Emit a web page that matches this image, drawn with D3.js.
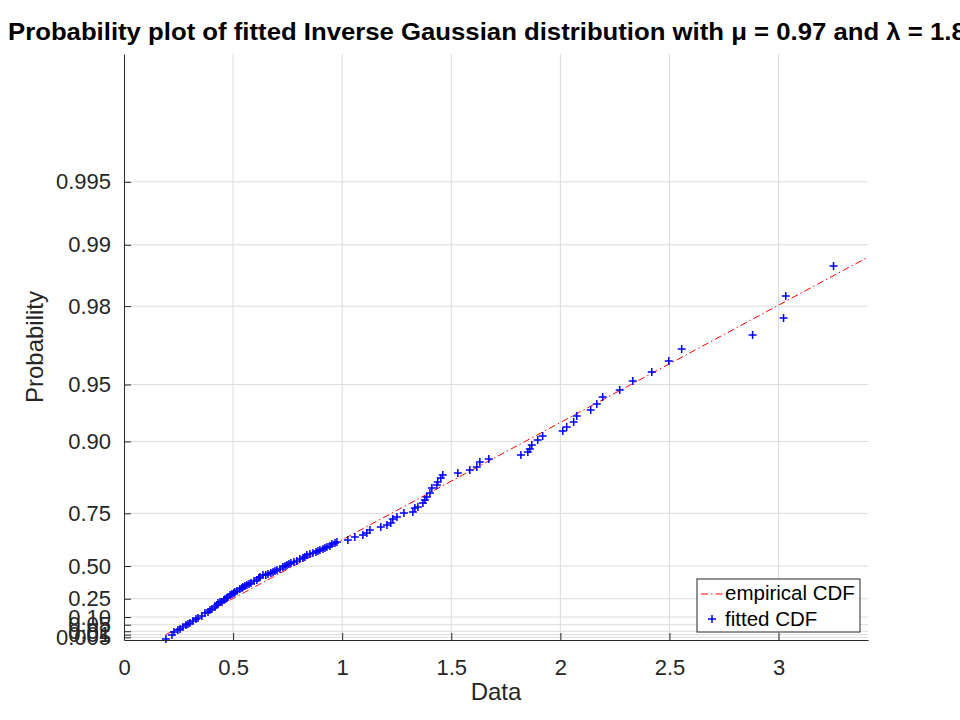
<!DOCTYPE html>
<html>
<head>
  <meta charset="utf-8">
  <script src="https://d3js.org/d3.v7.min.js"></script>
  <style>
    body { margin: 0; background: #fff; }
    text { font-family: "Liberation Sans", Arial, sans-serif; fill: #262626; }
    .axis path, .axis line { stroke: #262626; }
    .gridlines line { stroke: #dcdcdc; }
  </style>
</head>
<body>
  <svg id="probplot" width="960" height="720"></svg>

  <script>
    // fitted Inverse Gaussian parameters
    const mu = 0.97;
    const lambda = 1.89;

    const xTicks = [0, 0.5, 1, 1.5, 2, 2.5, 3];
    const xTickLabels = ['0', '0.5', '1', '1.5', '2', '2.5', '3'];
    const probTicks = [0.005, 0.01, 0.02, 0.05, 0.10, 0.25, 0.50, 0.75, 0.90, 0.95, 0.98, 0.99, 0.995];
    const probTickLabels = ['0.005', '0.01', '0.02', '0.05', '0.10', '0.25', '0.50', '0.75', '0.90', '0.95', '0.98', '0.99', '0.995'];

    // sorted sample values (x) and the fitted quantile each one is plotted at (y)
    const sampleData = [
      0.192, 0.220, 0.229, 0.247, 0.257, 0.270, 0.284, 0.293, 0.302, 0.316,
      0.330, 0.339, 0.357, 0.371, 0.385, 0.394, 0.403, 0.417, 0.426, 0.431,
      0.440, 0.449, 0.458, 0.463, 0.472, 0.476, 0.486, 0.495, 0.504, 0.508,
      0.518, 0.531, 0.541, 0.545, 0.554, 0.563, 0.573, 0.582, 0.596, 0.609,
      0.618, 0.623, 0.637, 0.650, 0.660, 0.673, 0.683, 0.692, 0.701, 0.715,
      0.728, 0.738, 0.747, 0.756, 0.765, 0.779, 0.792, 0.806, 0.820, 0.829,
      0.838, 0.852, 0.866, 0.880, 0.889, 0.898, 0.912, 0.921, 0.930, 0.944,
      0.953, 0.967, 0.976, 1.026, 1.058, 1.095, 1.113, 1.127, 1.177, 1.205,
      1.223, 1.232, 1.251, 1.283, 1.324, 1.333, 1.347, 1.370, 1.379, 1.388,
      1.402, 1.411, 1.434, 1.438, 1.452, 1.461, 1.530, 1.585, 1.617, 1.631,
      1.672, 1.819, 1.851, 1.860, 1.869, 1.896, 1.919, 2.011, 2.029, 2.061,
      2.075, 2.139, 2.167, 2.194, 2.272, 2.332, 2.419, 2.497, 2.556, 2.881,
      3.023, 3.033, 3.252
    ];
    const fittedQuantile = [
      0.154, 0.188, 0.214, 0.231, 0.239, 0.256, 0.274, 0.282, 0.291, 0.308,
      0.325, 0.333, 0.350, 0.376, 0.384, 0.401, 0.410, 0.427, 0.444, 0.461,
      0.470, 0.470, 0.487, 0.495, 0.504, 0.512, 0.529, 0.538, 0.546, 0.555,
      0.563, 0.580, 0.589, 0.597, 0.606, 0.614, 0.623, 0.631, 0.648, 0.657,
      0.674, 0.683, 0.700, 0.700, 0.708, 0.717, 0.725, 0.734, 0.742, 0.751,
      0.768, 0.777, 0.785, 0.794, 0.802, 0.811, 0.819, 0.836, 0.845, 0.853,
      0.870, 0.879, 0.887, 0.896, 0.904, 0.913, 0.921, 0.930, 0.938, 0.947,
      0.964, 0.973, 0.981, 0.998, 1.024, 1.041, 1.058, 1.083, 1.109, 1.126,
      1.143, 1.177, 1.194, 1.228, 1.237, 1.271, 1.280, 1.314, 1.339, 1.365,
      1.399, 1.441, 1.467, 1.493, 1.527, 1.552, 1.569, 1.595, 1.621, 1.663,
      1.689, 1.723, 1.748, 1.774, 1.808, 1.851, 1.885, 1.927, 1.962, 2.004,
      2.055, 2.106, 2.158, 2.217, 2.277, 2.354, 2.430, 2.524, 2.626, 2.746,
      2.891, 3.078, 3.334
    ];

    // reference line (data = fitted quantile) over this data range
    const refLineX = [0.192, 3.41];

    // ---- inverse gaussian cdf / quantile for the probability axis ----
    function normCdf(z) {
      const t = 1 / (1 + 0.3275911 * Math.abs(z) / Math.SQRT2);
      const y = 1 - (((((1.061405429 * t - 1.453152027) * t) + 1.421413741) * t - 0.284496736) * t + 0.254829592) * t * Math.exp(-z * z / 2);
      return z >= 0 ? 0.5 * (1 + y) : 0.5 * (1 - y);
    }
    function igCdf(x) {
      const s = Math.sqrt(lambda / x);
      return normCdf(s * (x / mu - 1)) + Math.exp(2 * lambda / mu) * normCdf(-s * (x / mu + 1));
    }
    function igQuantile(p) {
      let lo = 1e-6, hi = 100;
      for (let i = 0; i < 100; i++) {
        const mid = (lo + hi) / 2;
        if (igCdf(mid) < p) lo = mid; else hi = mid;
      }
      return (lo + hi) / 2;
    }

    const svg = d3.select('svg#probplot');
    const margins = { top: 54, right: 92, bottom: 80, left: 124 };
    const width = +svg.attr('width');
    const height = +svg.attr('height');
    const chartWidth = width - margins.left - margins.right;
    const chartHeight = height - margins.top - margins.bottom;

    svg.append('rect').attr('width', width).attr('height', height).attr('fill', '#fff');

    const xScale = d3.scaleLinear()
      .domain([0, 3.41])
      .range([0, chartWidth]);

    // y is linear in fitted-quantile units, labelled in probabilities
    const yScale = d3.scaleLinear()
      .domain([0.146, 5.141])
      .range([chartHeight, 0]);

    const yTickPos = probTicks.map(igQuantile);

    let chartArea = svg.append('g')
      .attr('transform', `translate(${margins.left},${margins.top})`);

    // gridlines
    chartArea.append('g')
      .attr('class', 'gridlines')
      .selectAll('line').data(xTicks.slice(1))
      .join('line')
      .attr('x1', d => xScale(d)).attr('x2', d => xScale(d))
      .attr('y1', 0).attr('y2', chartHeight);

    chartArea.append('g')
      .attr('class', 'gridlines')
      .selectAll('line').data(yTickPos)
      .join('line')
      .attr('x1', 0).attr('x2', chartWidth)
      .attr('y1', d => yScale(d)).attr('y2', d => yScale(d));

    // reference line
    chartArea.append('line')
      .attr('x1', xScale(refLineX[0])).attr('y1', yScale(refLineX[0]))
      .attr('x2', xScale(refLineX[1])).attr('y2', yScale(refLineX[1]))
      .attr('stroke', 'red')
      .attr('stroke-width', 1)
      .attr('stroke-dasharray', '7,3,1.5,3');

    // sample points as "+" markers
    const plus = 4;
    chartArea.append('g')
      .selectAll('path').data(sampleData)
      .join('path')
      .attr('d', (d, i) => {
        const cx = xScale(d), cy = yScale(fittedQuantile[i]);
        return `M${cx - plus},${cy}H${cx + plus}M${cx},${cy - plus}V${cy + plus}`;
      })
      .attr('fill', 'none')
      .attr('stroke', 'blue')
      .attr('stroke-width', 1.5);

    // axes
    let bottomAxis = d3.axisBottom(xScale)
      .tickValues(xTicks)
      .tickFormat((d, i) => xTickLabels[i])
      .tickSizeInner(-7)
      .tickSizeOuter(0)
      .tickPadding(19);

    chartArea.append('g')
      .attr('class', 'axis')
      .attr('transform', `translate(0,${chartHeight})`)
      .call(bottomAxis)
      .selectAll('text')
      .style('font-size', '22px');

    let leftAxis = d3.axisLeft(yScale)
      .tickValues(yTickPos)
      .tickFormat((d, i) => probTickLabels[i])
      .tickSizeInner(-7)
      .tickSizeOuter(0)
      .tickPadding(13);

    chartArea.append('g')
      .attr('class', 'axis')
      .call(leftAxis)
      .selectAll('text')
      .style('font-size', '22px');

    svg.selectAll('.axis text').style('fill', '#262626').style('font-family', '"Liberation Sans", Arial, sans-serif');
    svg.selectAll('.axis path').attr('stroke-width', 1);

    // labels
    svg.append('text')
      .text('Data')
      .attr('x', margins.left + chartWidth / 2)
      .attr('y', 700)
      .attr('text-anchor', 'middle')
      .style('font-size', '24px');

    svg.append('g')
      .attr('transform', 'translate(43, 347), rotate(-90)')
      .append('text')
      .text('Probability')
      .attr('text-anchor', 'middle')
      .style('font-size', '24px');

    svg.append('text')
      .text('Probability plot of fitted Inverse Gaussian distribution with μ = 0.97 and λ = 1.89')
      .attr('x', 8)
      .attr('y', 40)
      .attr('textLength', 972)
      .attr('lengthAdjust', 'spacingAndGlyphs')
      .style('font-size', '23px')
      .style('font-weight', 'bold')
      .style('fill', '#000');

    // legend
    const legend = svg.append('g').attr('transform', 'translate(697,579)');
    legend.append('rect')
      .attr('width', 163).attr('height', 53)
      .attr('fill', '#fff').attr('stroke', '#262626').attr('stroke-width', 1);
    legend.append('line')
      .attr('x1', 4).attr('x2', 26).attr('y1', 15).attr('y2', 15)
      .attr('stroke', 'red').attr('stroke-width', 1)
      .attr('stroke-dasharray', '7,3,1.5,3');
    legend.append('text').text('empirical CDF')
      .attr('x', 28).attr('y', 20.5).style('font-size', '20.5px').style('fill', '#000');
    legend.append('path')
      .attr('d', `M${15 - plus},40H${15 + plus}M15,${40 - plus}V${40 + plus}`)
      .attr('stroke', 'blue').attr('stroke-width', 1.5);
    legend.append('text').text('fitted CDF')
      .attr('x', 28).attr('y', 46.5).style('font-size', '20.5px').style('fill', '#000');
  </script>
</body>
</html>
